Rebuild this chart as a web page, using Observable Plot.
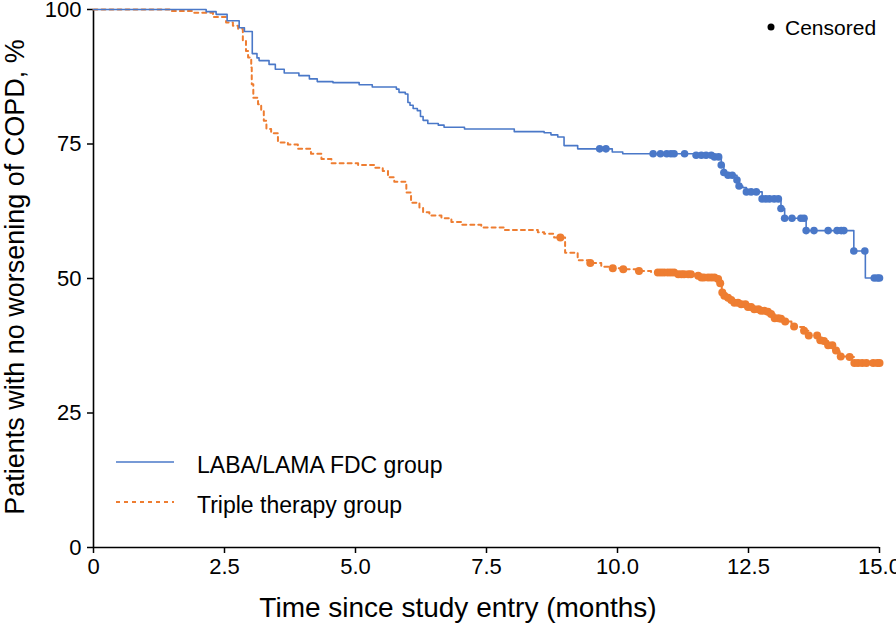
<!DOCTYPE html>
<html><head><meta charset="utf-8">
<script src="https://cdn.jsdelivr.net/npm/d3@7"></script>
<script src="https://cdn.jsdelivr.net/npm/@observablehq/plot@0.6"></script>
<style>
body{margin:0;background:#fff;font-family:"Liberation Sans",Arial,sans-serif}
#wrap{position:relative;width:896px;height:623px;overflow:hidden}
#ov{position:absolute;left:0;top:0;pointer-events:none}
</style></head><body><div id="wrap"></div>
<script>
const xTicks = [0, 2.5, 5, 7.5, 10, 12.5, 15];
const yTicks = [0, 25, 50, 75, 100];
const groups = ["LABA/LAMA FDC group", "Triple therapy group"];
const xTitle = "Time since study entry (months)";
const yTitle = "Patients with no worsening of COPD, %";
const censoredLabel = "Censored";

// LABA/LAMA FDC group: step times (months) and survival (%)
const blueTime = [0, 2.15, 2.34, 2.55, 2.78, 2.88, 3.03, 3.12, 3.16, 3.35, 3.47, 3.64, 3.92, 4.12, 4.27, 4.57, 5.07, 5.32, 5.78, 5.83, 5.95, 6.00, 6.04, 6.10, 6.18, 6.24, 6.29, 6.38, 6.58, 6.69, 7.08, 8.03, 8.60, 8.73, 8.86, 8.98, 9.24, 9.90, 10.10, 11.50, 11.85, 11.98, 12.03, 12.11, 12.28, 12.32, 12.39, 12.46, 12.76, 13.12, 13.19, 13.60, 14.51, 14.73, 15.00];
const blueSurv = [100, 99.6, 99.1, 97.9, 96.6, 95.9, 91.8, 91.0, 90.5, 89.8, 88.9, 88.2, 87.7, 87.1, 86.6, 86.4, 86.0, 85.6, 85.2, 84.6, 84.3, 82.7, 82.2, 81.6, 81.2, 80.1, 79.4, 78.8, 78.5, 78.1, 77.8, 77.3, 77.1, 76.7, 76.3, 74.7, 74.1, 73.5, 73.2, 72.9, 72.6, 71.1, 69.7, 69.2, 68.3, 67.2, 66.9, 66.1, 64.8, 63.0, 61.2, 58.9, 55.1, 50.1, 50.1];
const blueCensor = [9.66, 9.78, 10.68, 10.82, 10.94, 11.02, 11.08, 11.28, 11.50, 11.60, 11.69, 11.79, 11.85, 11.93, 11.98, 12.03, 12.11, 12.19, 12.28, 12.32, 12.46, 12.55, 12.65, 12.76, 12.83, 12.90, 12.99, 13.07, 13.12, 13.19, 13.33, 13.50, 13.56, 13.60, 13.75, 14.02, 14.19, 14.27, 14.32, 14.51, 14.72, 14.90, 14.96, 15.00];

// Triple therapy group
const orangeTime = [0, 1.45, 1.92, 2.28, 2.53, 2.66, 2.76, 2.85, 2.91, 2.95, 3.01, 3.02, 3.05, 3.14, 3.20, 3.25, 3.30, 3.39, 3.52, 3.71, 3.90, 4.15, 4.35, 4.54, 5.05, 5.36, 5.52, 5.62, 5.74, 5.97, 6.06, 6.22, 6.29, 6.41, 6.64, 6.83, 7.02, 7.40, 7.84, 8.48, 8.60, 8.79, 9.00, 9.24, 9.45, 9.69, 9.85, 10.07, 10.35, 10.64, 10.76, 11.09, 11.47, 11.60, 11.92, 11.95, 11.99, 12.03, 12.11, 12.17, 12.23, 12.36, 12.49, 12.61, 12.74, 12.87, 12.93, 13.00, 13.12, 13.19, 13.32, 13.44, 13.56, 13.65, 13.82, 13.92, 14.02, 14.12, 14.24, 14.43, 14.52, 15.00];
const orangeSurv = [100, 99.7, 99.4, 98.6, 97.6, 97.0, 96.4, 94.2, 92.3, 91.1, 89.2, 86.1, 83.6, 82.4, 81.2, 79.3, 77.8, 77.0, 75.3, 74.9, 74.1, 73.2, 72.2, 71.4, 71.1, 70.6, 70.0, 68.8, 68.0, 66.0, 64.1, 63.2, 62.3, 61.7, 61.2, 60.5, 60.0, 59.5, 59.0, 58.6, 58.3, 57.6, 54.8, 53.4, 52.9, 52.2, 51.9, 51.7, 51.4, 51.2, 51.1, 50.8, 50.5, 50.2, 49.9, 49.1, 47.4, 46.8, 46.4, 46.0, 45.5, 45.2, 44.7, 44.3, 44.0, 43.8, 43.4, 42.6, 42.5, 42.0, 41.1, 41.0, 40.3, 39.4, 38.5, 38.4, 37.6, 36.6, 35.5, 35.4, 34.3, 34.3];
const orangeCensor = [8.91, 9.48, 9.91, 10.11, 10.41, 10.77, 10.83, 10.89, 10.96, 11.02, 11.08, 11.16, 11.22, 11.27, 11.35, 11.40, 11.54, 11.60, 11.65, 11.73, 11.79, 11.85, 11.92, 11.96, 12.00, 12.04, 12.11, 12.17, 12.23, 12.30, 12.36, 12.44, 12.49, 12.55, 12.61, 12.69, 12.74, 12.80, 12.87, 12.93, 13.00, 13.07, 13.12, 13.20, 13.37, 13.56, 13.65, 13.81, 13.87, 13.94, 14.02, 14.10, 14.17, 14.26, 14.43, 14.52, 14.59, 14.67, 14.75, 14.88, 14.96, 15.00];

const BLUE = "#4a78c8", ORANGE = "#ee7d31";

function steps(t, s, g) { return t.map((x, i) => ({time: x, surv: s[i], group: g})); }
function cens(c, t, s, g) {
  return c.map(x => { const i = Math.max(0, d3.bisectRight(t, x) - 1); return {time: x, surv: s[i], group: g}; });
}
const blueSteps = steps(blueTime, blueSurv, groups[0]);
const orangeSteps = steps(orangeTime, orangeSurv, groups[1]);
const blueC = cens(blueCensor, blueTime, blueSurv, groups[0]);
const orangeC = cens(orangeCensor, orangeTime, orangeSurv, groups[1]);

const chart = Plot.plot({
  width: 896, height: 623,
  marginLeft: 93, marginRight: 17, marginTop: 9, marginBottom: 76,
  style: {fontFamily: "'Liberation Sans', Arial, sans-serif", fontSize: "22px", color: "#000", background: "#fff", overflow: "visible"},
  x: {domain: [0, 15]},
  y: {domain: [0, 100]},
  marks: [
    Plot.axisX({ticks: xTicks, tickFormat: d => d === 0 ? "0" : d.toFixed(1), tickSize: 6, tickPadding: 5, label: null, stroke: "#000", strokeWidth: 1.5, fontSize: 22}),
    Plot.axisY({ticks: yTicks, tickSize: 6, tickPadding: 6, label: null, stroke: "#000", strokeWidth: 1.5, fontSize: 22}),
    Plot.ruleX([0], {stroke: "#000", strokeWidth: 1.6}),
    Plot.ruleY([0], {stroke: "#000", strokeWidth: 1.6}),
    Plot.line(orangeSteps, {x: "time", y: "surv", curve: "step-after", stroke: ORANGE, strokeWidth: 2, strokeDasharray: "4,4"}),
    Plot.line(blueSteps, {x: "time", y: "surv", curve: "step-after", stroke: BLUE, strokeWidth: 1.6}),
    Plot.dot(orangeC, {x: "time", y: "surv", r: 4, fill: ORANGE, stroke: "none"}),
    Plot.dot(blueC, {x: "time", y: "surv", r: 3.8, fill: BLUE, stroke: "none"})
  ]
});
const wrap = document.getElementById("wrap");
wrap.appendChild(chart);

const ns = "http://www.w3.org/2000/svg";
const ov = document.createElementNS(ns, "svg");
ov.setAttribute("id", "ov"); ov.setAttribute("width", 896); ov.setAttribute("height", 623);
ov.style.fontFamily = "'Liberation Sans', Arial, sans-serif";
function el(tag, attrs, text) {
  const e = document.createElementNS(ns, tag);
  for (const k in attrs) e.setAttribute(k, attrs[k]);
  if (text != null) e.textContent = text;
  ov.appendChild(e); return e;
}
el("text", {transform: "translate(24,277) rotate(-90)", "text-anchor": "middle", "font-size": 27, fill: "#000"}, yTitle);
el("text", {x: 458, y: 617, "text-anchor": "middle", "font-size": 28, fill: "#000"}, xTitle);
el("line", {x1: 116, x2: 174, y1: 462, y2: 462, stroke: BLUE, "stroke-width": 1.6});
el("line", {x1: 116, x2: 174, y1: 502, y2: 502, stroke: ORANGE, "stroke-width": 2, "stroke-dasharray": "4,4"});
el("text", {x: 197, y: 473, "font-size": 23, fill: "#000"}, groups[0]);
el("text", {x: 197, y: 513, "font-size": 23, fill: "#000"}, groups[1]);
el("circle", {cx: 771, cy: 27, r: 3.5, fill: "#000"});
el("text", {x: 785, y: 35, "font-size": 21, fill: "#000"}, censoredLabel);
wrap.appendChild(ov);
</script></body></html>
